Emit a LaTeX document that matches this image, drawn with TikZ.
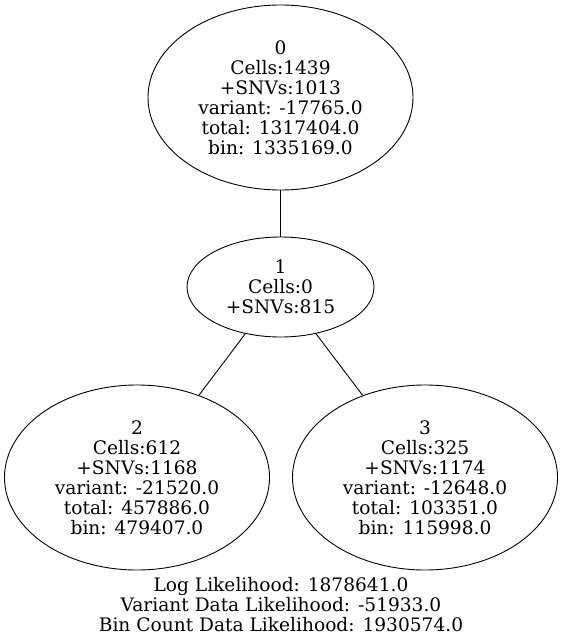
\documentclass[tikz,border=0pt]{standalone}
\usepackage{fontspec}
\setmainfont{DejaVu Serif}
\usetikzlibrary{shapes.geometric}
\begin{document}
\begin{tikzpicture}[x=1pt,y=-1pt,
  treenode/.style={draw,ellipse,line width=0.9pt,inner sep=0pt,align=center,
    font=\fontsize{18.6}{20}\selectfont},
  six/.style={minimum width=265pt,minimum height=185pt},
  three/.style={minimum width=187pt,minimum height=100pt},
  edge/.style={line width=0.9pt},
  foot/.style={align=center,inner sep=0pt,font=\fontsize{18.6}{20}\selectfont}]
\useasboundingbox (0,0) rectangle (563,642);
\node[treenode,six] (n0) at (280.5,97.5) {0\\Cells:1439\\+SNVs:1013\\variant: -17765.0\\total: 1317404.0\\bin: 1335169.0};
\node[treenode,three] (n1) at (280.5,287) {1\\Cells:0\\+SNVs:815};
\node[treenode,six] (n2) at (137,477.5) {2\\Cells:612\\+SNVs:1168\\variant: -21520.0\\total: 457886.0\\bin: 479407.0};
\node[treenode,six] (n3) at (425,477.5) {3\\Cells:325\\+SNVs:1174\\variant: -12648.0\\total: 103351.0\\bin: 115998.0};
\draw[edge] (n0) -- (n1);
\draw[edge] (n1) -- (n2);
\draw[edge] (n1) -- (n3);
\node[foot] (ft) at (281,605) {Log Likelihood: 1878641.0\\Variant Data Likelihood: -51933.0\\Bin Count Data Likelihood: 1930574.0};
\end{tikzpicture}
\end{document}
